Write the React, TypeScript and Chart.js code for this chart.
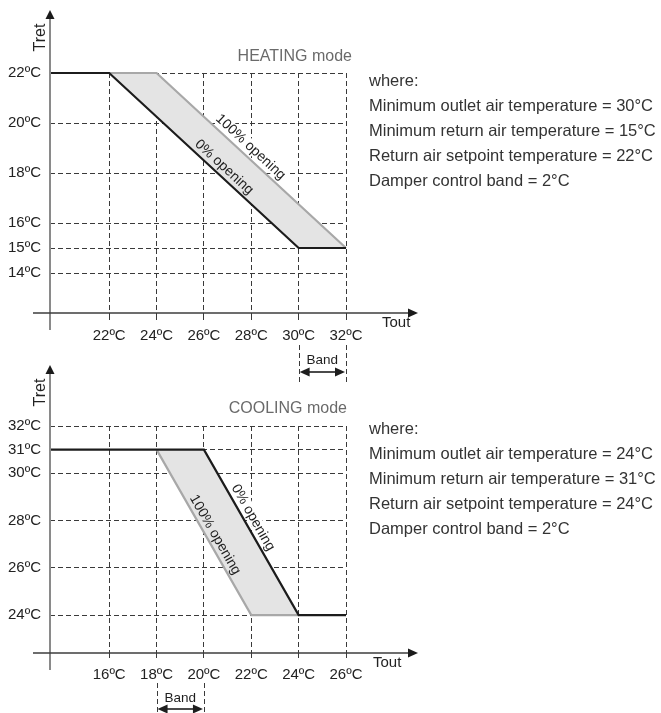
import { useEffect, useRef } from 'react';
import { Chart, registerables } from 'chart.js';

Chart.register(...registerables);

const FONT = '"Liberation Sans", Arial, Helvetica, sans-serif';
const W = 661;
const H = 713;

// ---------- HEATING mode ----------
const heatXMin = 19.5;
const heatXMax = 32;
const heatYMin = 12.4;
const heatYMax = 22;
const heatXTicks = [22, 24, 26, 28, 30, 32];
const heatYTicks = [14, 15, 16, 18, 20, 22];
const heatZeroX = [19.5, 22, 30, 32]; // 0% opening
const heatZeroY = [22, 22, 15, 15];
const heatFullX = [22, 24, 32]; // 100% opening
const heatFullY = [22, 22, 15];
const heatBand = [30, 32];
const heatNotes = [
  'where:',
  'Minimum outlet air temperature = 30°C',
  'Minimum return air temperature = 15°C',
  'Return air setpoint temperature = 22°C',
  'Damper control band = 2°C',
];

// ---------- COOLING mode ----------
const coolXMin = 13.5;
const coolXMax = 26;
const coolYMin = 22.4;
const coolYMax = 32;
const coolXTicks = [16, 18, 20, 22, 24, 26];
const coolYTicks = [24, 26, 28, 30, 31, 32];
const coolZeroX = [13.5, 20, 24, 26]; // 0% opening
const coolZeroY = [31, 31, 24, 24];
const coolFullX = [18, 22, 24]; // 100% opening
const coolFullY = [31, 24, 24];
const coolBand = [18, 20];
const coolNotes = [
  'where:',
  'Minimum outlet air temperature = 24°C',
  'Minimum return air temperature = 31°C',
  'Return air setpoint temperature = 24°C',
  'Damper control band = 2°C',
];

type LineLabel = { text: string; ds: number; at: number; off: number; bg: boolean };

type Panel = {
  id: string;
  xMin: number; xMax: number; yMin: number; yMax: number;
  xTicks: number[]; yTicks: number[];
  zeroX: number[]; zeroY: number[]; fullX: number[]; fullY: number[];
  band: number[];
  title: string;
  // layout / style
  top: number; bottom: number; left: number; right: number;
  tickLen: number; tickPad: number;
  yArrow: number; xArrow: number;
  tretDy: number; toutDx: number; toutDy: number;
  titleDx: number; titleDy: number;
  bandLine: [number, number]; bandTextDy: number; bandArrowDy: number;
  labels: LineLabel[];
};

function pointOnLine(data: { x: number; y: number }[], at: number) {
  for (let i = 0; i < data.length - 1; i++) {
    const a = data[i];
    const b = data[i + 1];
    if (at >= a.x && at <= b.x) {
      const t = (at - a.x) / (b.x - a.x);
      return { a, b, y: a.y + t * (b.y - a.y) };
    }
  }
  return null;
}

function decoPlugin(p: Panel) {
  return {
    id: 'deco_' + p.id,
    afterDatasetsDraw(chart: any) {
      const { ctx, chartArea: ca } = chart;
      const xs = chart.scales.x;
      const ys = chart.scales.y;
      const x0 = xs.getPixelForValue(xs.min);
      const y0 = ys.getPixelForValue(ys.min);
      ctx.save();

      // y axis
      const yTip = ca.top - p.yArrow;
      ctx.strokeStyle = '#8a8a8a';
      ctx.lineWidth = 2;
      ctx.setLineDash([]);
      ctx.beginPath();
      ctx.moveTo(x0, y0 + 17);
      ctx.lineTo(x0, yTip + 8);
      ctx.stroke();
      ctx.fillStyle = '#1a1a1a';
      ctx.beginPath();
      ctx.moveTo(x0, yTip);
      ctx.lineTo(x0 - 4.5, yTip + 9);
      ctx.lineTo(x0 + 4.5, yTip + 9);
      ctx.closePath();
      ctx.fill();

      // x axis
      const xTip = ca.right + p.xArrow;
      ctx.strokeStyle = '#3c3c3c';
      ctx.lineWidth = 1.5;
      ctx.beginPath();
      ctx.moveTo(x0 - 17, y0);
      ctx.lineTo(xTip - 8, y0);
      ctx.stroke();
      ctx.beginPath();
      ctx.moveTo(xTip, y0);
      ctx.lineTo(xTip - 10, y0 - 4.5);
      ctx.lineTo(xTip - 10, y0 + 4.5);
      ctx.closePath();
      ctx.fill();

      // axis titles
      ctx.fillStyle = '#222';
      ctx.font = `16px ${FONT}`;
      ctx.save();
      ctx.translate(x0 - 9, ca.top - p.tretDy);
      ctx.rotate(-Math.PI / 2);
      ctx.textAlign = 'center';
      ctx.textBaseline = 'middle';
      ctx.fillText('Tret', 0, 0);
      ctx.restore();

      ctx.font = `15px ${FONT}`;
      ctx.textAlign = 'left';
      ctx.textBaseline = 'alphabetic';
      ctx.fillText('Tout', ca.right + p.toutDx, y0 + p.toutDy);

      // mode title
      ctx.fillStyle = '#6a6a6a';
      ctx.font = `16px ${FONT}`;
      ctx.textAlign = 'right';
      ctx.textBaseline = 'middle';
      ctx.fillText(p.title, ca.right + p.titleDx, ca.top - p.titleDy);

      // line labels
      ctx.font = `14px ${FONT}`;
      for (const lb of p.labels) {
        const data = chart.data.datasets[lb.ds].data as { x: number; y: number }[];
        const seg = pointOnLine(data, lb.at);
        if (!seg) continue;
        const ax = xs.getPixelForValue(seg.a.x);
        const ay = ys.getPixelForValue(seg.a.y);
        const bx = xs.getPixelForValue(seg.b.x);
        const by = ys.getPixelForValue(seg.b.y);
        const th = Math.atan2(by - ay, bx - ax);
        const px = xs.getPixelForValue(lb.at);
        const py = ys.getPixelForValue(seg.y);
        const cx = px + lb.off * Math.sin(th);
        const cy = py - lb.off * Math.cos(th);
        ctx.save();
        ctx.translate(cx, cy);
        ctx.rotate(th);
        const w = ctx.measureText(lb.text).width;
        if (lb.bg) {
          ctx.fillStyle = '#ffffff';
          ctx.fillRect(-w / 2 - 2, -7, w + 4, 13);
        }
        ctx.fillStyle = '#1e1e1e';
        ctx.textAlign = 'center';
        ctx.textBaseline = 'middle';
        ctx.fillText(lb.text, 0, 0);
        ctx.restore();
      }

      // band annotation
      const xa = xs.getPixelForValue(p.band[0]);
      const xb = xs.getPixelForValue(p.band[1]);
      ctx.strokeStyle = '#3a3a3a';
      ctx.lineWidth = 1;
      ctx.setLineDash([5, 3]);
      for (const bx of [xa, xb]) {
        ctx.beginPath();
        ctx.moveTo(Math.round(bx) + 0.5, y0 + p.bandLine[0]);
        ctx.lineTo(Math.round(bx) + 0.5, y0 + p.bandLine[1]);
        ctx.stroke();
      }
      ctx.setLineDash([]);
      ctx.fillStyle = '#1e1e1e';
      ctx.font = `13.5px ${FONT}`;
      ctx.textAlign = 'center';
      ctx.textBaseline = 'middle';
      ctx.fillText('Band', (xa + xb) / 2, y0 + p.bandTextDy);
      const ar = y0 + p.bandArrowDy;
      ctx.strokeStyle = '#1e1e1e';
      ctx.lineWidth = 1.6;
      ctx.beginPath();
      ctx.moveTo(xa + 8, ar);
      ctx.lineTo(xb - 8, ar);
      ctx.stroke();
      ctx.beginPath();
      ctx.moveTo(xa + 1, ar);
      ctx.lineTo(xa + 11, ar - 4.5);
      ctx.lineTo(xa + 11, ar + 4.5);
      ctx.closePath();
      ctx.fill();
      ctx.beginPath();
      ctx.moveTo(xb - 1, ar);
      ctx.lineTo(xb - 11, ar - 4.5);
      ctx.lineTo(xb - 11, ar + 4.5);
      ctx.closePath();
      ctx.fill();

      ctx.restore();
    },
  };
}

function buildConfig(p: Panel): any {
  const zero = p.zeroX.map((x, i) => ({ x, y: p.zeroY[i] }));
  const full = p.fullX.map((x, i) => ({ x, y: p.fullY[i] }));
  const tickFont = { family: FONT, size: 15 };
  return {
    type: 'line',
    data: {
      datasets: [
        {
          label: '0% opening',
          data: zero,
          borderColor: '#1c1c1c',
          borderWidth: 2.2,
          pointRadius: 0,
          tension: 0,
          fill: false,
          clip: false,
          borderJoinStyle: 'miter',
        },
        {
          label: '100% opening',
          data: full,
          borderColor: '#a8a8a8',
          borderWidth: 2.2,
          pointRadius: 0,
          tension: 0,
          fill: '-1',
          backgroundColor: '#e4e4e4',
          clip: false,
          borderJoinStyle: 'miter',
        },
      ],
    },
    options: {
      responsive: false,
      animation: false,
      events: [],
      layout: { padding: { top: p.top, left: 0, right: W - p.right, bottom: 0 } },
      plugins: { legend: { display: false }, tooltip: { enabled: false }, title: { display: false } },
      scales: {
        x: {
          type: 'linear',
          min: p.xMin,
          max: p.xMax,
          afterBuildTicks: (s: any) => {
            s.ticks = p.xTicks.map((v) => ({ value: v }));
          },
          afterFit: (s: any) => {
            s.height = H - p.bottom;
          },
          grid: {
            color: '#3a3a3a',
            lineWidth: 1,
            drawTicks: true,
            tickLength: p.tickLen,
            tickColor: '#3a3a3a',
            tickWidth: 1,
          },
          border: { display: false, dash: [5, 3] },
          ticks: {
            color: '#222',
            font: tickFont,
            padding: p.tickPad,
            autoSkip: false,
            maxRotation: 0,
            callback: (v: number) => `${v}ºC`,
          },
        },
        y: {
          type: 'linear',
          min: p.yMin,
          max: p.yMax,
          afterBuildTicks: (s: any) => {
            s.ticks = p.yTicks.map((v) => ({ value: v }));
          },
          afterFit: (s: any) => {
            s.width = p.left;
          },
          grid: { color: '#3a3a3a', lineWidth: 1, drawTicks: false },
          border: { display: false, dash: [5, 3] },
          ticks: {
            color: '#222',
            font: tickFont,
            padding: 9,
            autoSkip: false,
            callback: (v: number) => `${v}ºC`,
          },
        },
      },
    },
    plugins: [decoPlugin(p)],
  };
}

const heatPanel: Panel = {
  id: 'heat',
  xMin: heatXMin, xMax: heatXMax, yMin: heatYMin, yMax: heatYMax,
  xTicks: heatXTicks, yTicks: heatYTicks,
  zeroX: heatZeroX, zeroY: heatZeroY, fullX: heatFullX, fullY: heatFullY,
  band: heatBand,
  title: 'HEATING mode',
  top: 73, bottom: 313, left: 50, right: 346,
  tickLen: 7, tickPad: 7,
  yArrow: 63, xArrow: 72,
  tretDy: 35.5, toutDx: 36, toutDy: 14,
  titleDx: 6, titleDy: 16,
  bandLine: [32, 72], bandTextDy: 47, bandArrowDy: 59,
  labels: [
    { text: '100% opening', ds: 1, at: 27.7, off: 9.4, bg: true },
    { text: '0% opening', ds: 0, at: 26.6, off: 8.8, bg: false },
  ],
};

const coolPanel: Panel = {
  id: 'cool',
  xMin: coolXMin, xMax: coolXMax, yMin: coolYMin, yMax: coolYMax,
  xTicks: coolXTicks, yTicks: coolYTicks,
  zeroX: coolZeroX, zeroY: coolZeroY, fullX: coolFullX, fullY: coolFullY,
  band: coolBand,
  title: 'COOLING mode',
  top: 426, bottom: 653, left: 50, right: 346,
  tickLen: 5, tickPad: 8,
  yArrow: 61, xArrow: 72,
  tretDy: 33.5, toutDx: 27, toutDy: 14,
  titleDx: 1, titleDy: 17,
  bandLine: [30, 62], bandTextDy: 45, bandArrowDy: 56,
  labels: [
    { text: '0% opening', ds: 0, at: 21.75, off: 8.8, bg: true },
    { text: '100% opening', ds: 1, at: 20.16, off: 8.5, bg: false },
  ],
};

const notesStyle = {
  position: 'absolute' as const,
  left: 369,
  fontFamily: FONT,
  fontSize: '16.5px',
  lineHeight: '25px',
  color: '#333',
  whiteSpace: 'nowrap' as const,
};

export default function App() {
  const topRef = useRef<HTMLCanvasElement>(null);
  const botRef = useRef<HTMLCanvasElement>(null);

  useEffect(() => {
    const c1 = new Chart(topRef.current as HTMLCanvasElement, buildConfig(heatPanel));
    const c2 = new Chart(botRef.current as HTMLCanvasElement, buildConfig(coolPanel));
    return () => {
      c1.destroy();
      c2.destroy();
    };
  }, []);

  return (
    <div
      style={{
        position: 'fixed',
        left: 0,
        top: 0,
        width: W,
        height: H,
        background: '#ffffff',
        overflow: 'hidden',
      }}
    >
      <canvas ref={topRef} width={W} height={H} style={{ position: 'absolute', left: 0, top: 0 }} />
      <canvas ref={botRef} width={W} height={H} style={{ position: 'absolute', left: 0, top: 0 }} />
      <div style={{ ...notesStyle, top: 67.5 }}>
        {heatNotes.map((t) => (
          <div key={t}>{t}</div>
        ))}
      </div>
      <div style={{ ...notesStyle, top: 415.8 }}>
        {coolNotes.map((t) => (
          <div key={t}>{t}</div>
        ))}
      </div>
    </div>
  );
}
